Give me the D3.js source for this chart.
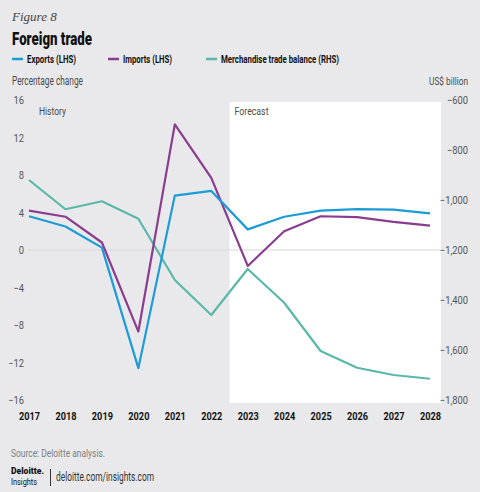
<!DOCTYPE html>
<html><head><meta charset="utf-8">
<script src="https://cdn.jsdelivr.net/npm/d3@7"></script>
<style>
html,body{margin:0;padding:0;background:#e9e9eb;}
svg{display:block;}
</style></head>
<body><svg id="c" width="480" height="492"></svg>
<script>
const years = ["2017","2018","2019","2020","2021","2022","2023","2024","2025","2026","2027","2028"];
const exportsLHS = [3.6, 2.5, 0.25, -12.6, 5.8, 6.3, 2.2, 3.55, 4.2, 4.35, 4.3, 3.9];
const importsLHS = [4.2, 3.55, 0.8, -8.7, 13.4, 7.7, -1.7, 2.0, 3.6, 3.5, 3.0, 2.6];
const tradeBalanceRHS = [-920, -1037, -1005, -1075, -1320, -1460, -1276, -1411, -1604, -1671, -1700, -1715];
const leftTicks = [16, 12, 8, 4, 0, -4, -8, -12, -16];
const rightTicks = [-600, -800, -1000, -1200, -1400, -1600, -1800];

const svg = d3.select("#c");
const font = 'Roboto,"Liberation Sans",sans-serif';
const colors = {exp:"#1b9bd7", imp:"#8a3d8f", bal:"#5ab8aa"};

// condense a selection of texts horizontally
function condense(sel, f){
  sel.each(function(){
    const len = this.getComputedTextLength();
    d3.select(this).attr("textLength", len*f).attr("lengthAdjust","spacingAndGlyphs");
  });
  return sel;
}

svg.append("rect").attr("width",480).attr("height",492).attr("fill","#e9e9eb");

const x = d3.scalePoint().domain(years).range([29, 430]);
const yL = d3.scaleLinear().domain([-16,16]).range([400,100]);
const yR = d3.scaleLinear().domain([-1800,-600]).range([400,100]);

// forecast panel
const fx0 = (x("2022")+x("2023"))/2;
svg.append("rect").attr("x", fx0).attr("y",102).attr("width", 441-fx0).attr("height",301)
  .attr("fill","#ffffff").attr("rx",1);

// zero gridline
svg.append("line").attr("x1",28).attr("x2",441).attr("y1",yL(0)).attr("y2",yL(0))
  .attr("stroke","#d8d8dc").attr("stroke-width",1);

// left axis
const gL = svg.append("g").attr("transform","translate(24,0)")
  .call(d3.axisLeft(yL).tickValues(leftTicks).tickSize(0).tickPadding(0)
    .tickFormat(d => d < 0 ? "\u2212" + Math.abs(d) : d));
gL.select(".domain").remove();
condense(gL.selectAll("text").attr("font-family",font).attr("font-weight",400).attr("font-size",11).attr("fill","#555"), 0.85);

// right axis
const fmt = d3.format(",");
const gR = svg.append("g").attr("transform","translate(468,0)")
  .call(d3.axisLeft(yR).tickValues(rightTicks).tickSize(0).tickPadding(0)
    .tickFormat(d => "\u2212" + fmt(Math.abs(d))));
gR.select(".domain").remove();
condense(gR.selectAll("text").attr("font-family",font).attr("font-weight",400).attr("font-size",11).attr("fill","#555"), 0.85);

// x axis
const gX = svg.append("g").attr("transform","translate(0,412)")
  .call(d3.axisBottom(x).tickSize(0).tickPadding(0));
gX.select(".domain").remove();
condense(gX.selectAll("text").attr("font-family",font).attr("font-size",11.5).attr("font-weight","bold").attr("fill","#111"), 0.8);

// lines
const lineL = d3.line().x((d,i)=>x(years[i])).y(d=>yL(d));
const lineR = d3.line().x((d,i)=>x(years[i])).y(d=>yR(d));
svg.append("path").datum(tradeBalanceRHS).attr("d",lineR).attr("fill","none").attr("stroke",colors.bal).attr("stroke-width",2.2).attr("stroke-linejoin","round");
svg.append("path").datum(importsLHS).attr("d",lineL).attr("fill","none").attr("stroke",colors.imp).attr("stroke-width",2.2).attr("stroke-linejoin","round");
svg.append("path").datum(exportsLHS).attr("d",lineL).attr("fill","none").attr("stroke",colors.exp).attr("stroke-width",2.2).attr("stroke-linejoin","round");

function txt(xp, yp, s, size, opts={}){
  const t = svg.append("text").attr("x",xp).attr("y",yp).text(s)
    .attr("font-family",opts.family||font).attr("font-size",size)
    .attr("font-weight",opts.weight||400).attr("fill",opts.fill||"#4a4a4a");
  if(opts.style) t.attr("font-style",opts.style);
  if(opts.width) t.attr("textLength",opts.width).attr("lengthAdjust","spacingAndGlyphs");
  return t;
}

// annotations
txt(39, 115, "History", 11, {width:27});
txt(fx0+5, 115, "Forecast", 11, {width:34});

// header
txt(12, 21, "Figure 8", 13, {family:"'Liberation Serif',serif", style:"italic", weight:400, fill:"#444"});
txt(12, 45, "Foreign trade", 18, {weight:900, fill:"#111", width:80});

const legend = [{t:"Exports (LHS)",c:colors.exp,x:12,w:49},{t:"Imports (LHS)",c:colors.imp,x:108,w:49},{t:"Merchandise trade balance (RHS)",c:colors.bal,x:206,w:118}];
legend.forEach(l=>{
  svg.append("line").attr("x1",l.x).attr("x2",l.x+11).attr("y1",59).attr("y2",59).attr("stroke",l.c).attr("stroke-width",2.5);
  txt(l.x+15, 63, l.t, 10.5, {weight:700, fill:"#111", width:l.w});
});

txt(12, 85, "Percentage change", 12, {width:71});
// right-axis unit label: condensed via transform so its box stays inside the frame
svg.append("text").attr("transform","translate(468,85) scale(0.72,1)")
  .attr("text-anchor","end").text("US$ billion")
  .attr("font-family",font).attr("font-size",11.5).attr("font-weight",400).attr("fill","#4a4a4a");

// footer
txt(11, 457, "Source: Deloitte analysis.", 11, {fill:"#808080", width:94});
txt(11, 474, "Deloitte.", 8.5, {weight:900, fill:"#111", width:33});
txt(11, 485, "Insights", 8.5, {weight:400, fill:"#111", width:26});
svg.append("line").attr("x1",50.5).attr("x2",50.5).attr("y1",469).attr("y2",486).attr("stroke","#333").attr("stroke-width",1);
txt(56, 481, "deloitte.com/insights.com", 12, {weight:400, fill:"#333", width:98});
</script></body></html>
